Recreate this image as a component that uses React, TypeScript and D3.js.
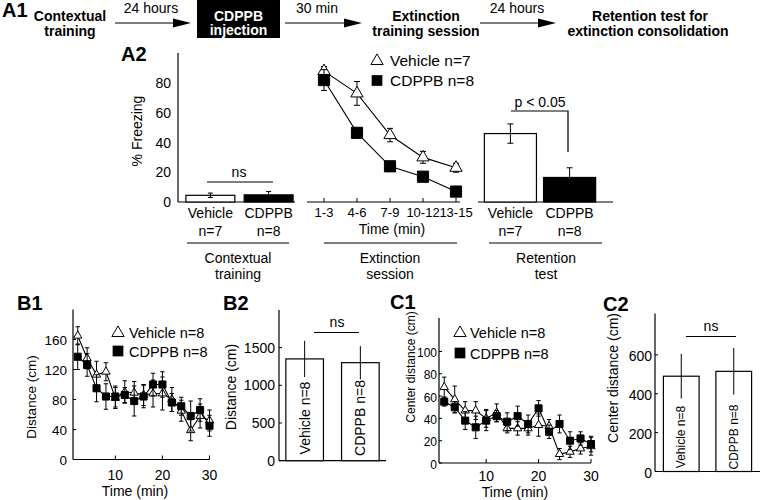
import React from "react";
import * as d3 from "d3";

const FONT = "'Liberation Sans', Arial, Helvetica, sans-serif";

// ---------- Data ----------
const groups = ["Vehicle", "CDPPB"];
const groupN_A = ["n=7", "n=8"];
const contextualMean = [4.5, 4.8];
const contextualErr = [1.5, 2.3];

const extinctionBlocks = ["1-3", "4-6", "7-9", "10-12", "13-15"];
const extVehicle = [88, 73, 45, 30, 23];
const extVehicleErr = [3, 8, 4.5, 4, 3];
const extCdppb = [82, 46.5, 24, 17, 7];
const extCdppbErr = [7, 3, 3, 3, 2];

const retentionMean = [46, 16.5];
const retentionErr = [6.5, 6.5];
const freezingTicks = [0, 20, 40, 60, 80];

const timeMin = [2, 4, 6, 8, 10, 12, 14, 16, 18, 20, 22, 24, 26, 28, 30];
const b1Vehicle = [165, 135, 113, 117, 82, 90, 89, 86, 88, 88, 80, 65, 39, 58, 52];
const b1VehicleErr = [12, 14, 18, 12, 14, 15, 15, 14, 18, 22, 16, 14, 14, 16, 14];
const b1Cdppb = [137, 126, 95, 84, 84, 86, 78, 84, 100, 100, 76, 71, 58, 66, 45];
const b1CdppbErr = [17, 15, 18, 17, 14, 10, 20, 15, 15, 17, 12, 12, 20, 15, 14];
const b1Ticks = [0, 40, 80, 120, 160];

const b2Mean = [1350, 1300];
const b2Err = [240, 220];
const b2Ticks = [0, 500, 1000, 1500];

const c1Vehicle = [68, 57, 47, 47, 40, 45, 31, 31, 31, 34, 33, 8, 10, 13, 15];
const c1VehicleErr = [9, 12, 8, 8, 8, 8, 4, 6, 6, 10, 6, 5, 5, 5, 8];
const c1Cdppb = [55, 50, 38, 32, 38, 42, 37, 42, 35, 49, 28, 35, 20, 22, 17];
const c1CdppbErr = [4, 5, 8, 10, 9, 5, 8, 9, 8, 7, 6, 8, 8, 6, 7];
const c1Ticks = [0, 20, 40, 60, 80, 100];
const timeTicks = [10, 20, 30];

const c2Mean = [490, 515];
const c2Err = [115, 120];
const c2Ticks = [0, 200, 400, 600];

const groupN_BC = ["Vehicle n=8", "CDPPB n=8"];

// ---------- helpers ----------
const tri = d3.symbol(d3.symbolTriangle);
const sq = d3.symbol(d3.symbolSquare);

function ErrBar({ x, y0, y1, cap }: { x: number; y0: number; y1: number; cap: number }) {
  return (
    <g stroke="#000" strokeWidth={1}>
      <line x1={x} x2={x} y1={y0} y2={y1} />
      {cap > 0 && <line x1={x - cap} x2={x + cap} y1={y0} y2={y0} />}
      {cap > 0 && <line x1={x - cap} x2={x + cap} y1={y1} y2={y1} />}
    </g>
  );
}

function Arrow({ x1, x2, y }: { x1: number; x2: number; y: number }) {
  return (
    <g>
      <line x1={x1} x2={x2 - 14} y1={y} y2={y} stroke="#000" strokeWidth={1.2} />
      <polygon points={`${x2},${y} ${x2 - 18},${y - 4.5} ${x2 - 18},${y + 4.5}`} fill="#000" />
    </g>
  );
}

function LineSeries({
  xs, vals, errs, x, y, kind, size, cap,
}: {
  xs: any[]; vals: number[]; errs: number[]; x: (v: any) => number; y: (v: number) => number;
  kind: "tri" | "sq"; size: number; cap: number;
}) {
  const pts = xs.map((t, i) => [x(t), y(vals[i])] as [number, number]);
  const path = d3.line()(pts) || "";
  return (
    <g>
      <path d={path} fill="none" stroke="#000" strokeWidth={1.1} />
      {pts.map((p, i) => (
        <ErrBar key={"e" + i} x={p[0]} y0={y(vals[i] + errs[i])} y1={y(vals[i] - errs[i])} cap={cap} />
      ))}
      {pts.map((p, i) => (
        <path
          key={"m" + i}
          transform={`translate(${p[0]},${p[1]})`}
          d={(kind === "tri" ? tri.size(size) : sq.size(size))() || ""}
          fill={kind === "tri" ? "#fff" : "#000"}
          stroke="#000"
          strokeWidth={1}
        />
      ))}
    </g>
  );
}

export default function App() {
  // ----- A2 scales -----
  const yA = d3.scaleLinear().domain([0, 100]).range([202, 53.25]);
  const xCtx = d3.scaleBand().domain(groups).range([183, 296]).paddingInner(0.16).paddingOuter(0.05);
  const xExt = d3.scalePoint().domain(extinctionBlocks).range([324, 456]);
  const xRet = d3.scaleBand().domain(groups).range([482, 598]).paddingInner(0.12).paddingOuter(0.04);

  // ----- B1 -----
  const xB1 = d3.scaleLinear().domain([1, 30]).range([73, 209.5]);
  const yB1 = d3.scaleLinear().domain([0, 200]).range([459.5, 309.5]);
  // ----- B2 -----
  const xB2 = d3.scaleBand().domain(groups).range([279, 386]).paddingInner(0.325).paddingOuter(0.123);
  const yB2 = d3.scaleLinear().domain([0, 2000]).range([460.7, 309.9]);
  // ----- C1 -----
  const xC1 = d3.scaleLinear().domain([1, 30]).range([439, 591]);
  const yC1 = d3.scaleLinear().domain([0, 130]).range([463, 318]);
  // ----- C2 -----
  const xC2 = d3.scaleBand().domain(groups).range([655, 760]).paddingInner(0.32).paddingOuter(0.16);
  const yC2 = d3.scaleLinear().domain([0, 813]).range([471.5, 313.4]);

  const txt = { fontFamily: FONT, fill: "#000" } as const;

  return (
    <div style={{ position: "absolute", left: 0, top: 0 }}>
      <svg width={761} height={500} viewBox="0 0 761 500" style={{ display: "block", background: "#fff" }}>
        <rect x={0} y={0} width={761} height={500} fill="#fff" />
        {/* ===== A1 timeline ===== */}
        <g style={txt}>
          <text x={2} y={17} fontSize={20} fontWeight="bold">A1</text>
          <text x={70} y={20.5} fontSize={14} fontWeight="bold" textAnchor="middle">Contextual</text>
          <text x={70} y={35.5} fontSize={14} fontWeight="bold" textAnchor="middle">training</text>
          <Arrow x1={115} x2={191} y={23} />
          <text x={151} y={13} fontSize={14} textAnchor="middle">24 hours</text>
          <rect x={197} y={0} width={83} height={38} fill="#000" />
          <text x={238.5} y={20.5} fontSize={14} fontWeight="bold" textAnchor="middle" fill="#fff">CDPPB</text>
          <text x={238.5} y={35} fontSize={14} fontWeight="bold" textAnchor="middle" fill="#fff">injection</text>
          <Arrow x1={285} x2={362} y={23} />
          <text x={317} y={13} fontSize={14} textAnchor="middle">30 min</text>
          <text x={426} y={20.5} fontSize={14} fontWeight="bold" textAnchor="middle">Extinction</text>
          <text x={426} y={35.5} fontSize={14} fontWeight="bold" textAnchor="middle">training session</text>
          <Arrow x1={480} x2={556} y={23} />
          <text x={517} y={13} fontSize={14} textAnchor="middle">24 hours</text>
          <text x={650} y={20.5} fontSize={14} fontWeight="bold" textAnchor="middle">Retention test for</text>
          <text x={648} y={35.5} fontSize={14} fontWeight="bold" textAnchor="middle">extinction consolidation</text>
        </g>

        {/* ===== A2 ===== */}
        <g style={txt}>
          <text x={121} y={60.5} fontSize={20} fontWeight="bold">A2</text>
          <text transform="translate(142,131) rotate(-90)" fontSize={14} textAnchor="middle">% Freezing</text>
          <line x1={178} x2={178} y1={53} y2={yA(0)} stroke="#000" strokeWidth={1.2} />
          {freezingTicks.map((t) => (
            <text key={t} x={171} y={yA(t) + 5} fontSize={14} textAnchor="end">{t}</text>
          ))}
          {/* contextual bars */}
          <line x1={178} x2={295} y1={yA(0)} y2={yA(0)} stroke="#000" strokeWidth={1.2} />
          {groups.map((g, i) => (
            <g key={g}>
              <rect x={xCtx(g)!} y={yA(contextualMean[i])} width={xCtx.bandwidth()} height={yA(0) - yA(contextualMean[i])}
                fill={i === 0 ? "#fff" : "#000"} stroke="#000" strokeWidth={1.2} />
              <ErrBar x={xCtx(g)! + xCtx.bandwidth() / 2} y0={yA(contextualMean[i] + contextualErr[i])}
                y1={yA(contextualMean[i] - contextualErr[i])} cap={2.5} />
              <text x={xCtx(g)! + xCtx.bandwidth() / 2} y={218} fontSize={14} textAnchor="middle">{g}</text>
              <text x={xCtx(g)! + xCtx.bandwidth() / 2} y={236} fontSize={14} textAnchor="middle">{groupN_A[i]}</text>
            </g>
          ))}
          <line x1={207} x2={273} y1={182} y2={182} stroke="#000" strokeWidth={1.2} />
          <text x={239} y={177} fontSize={14} textAnchor="middle">ns</text>
          <line x1={187} x2={289} y1={243} y2={243} stroke="#000" strokeWidth={1.2} />
          <text x={238} y={263} fontSize={14} textAnchor="middle">Contextual</text>
          <text x={238} y={279} fontSize={14} textAnchor="middle">training</text>

          {/* extinction */}
          <line x1={307} x2={460} y1={yA(0)} y2={yA(0)} stroke="#000" strokeWidth={1.2} />
          {extinctionBlocks.map((b) => (
            <g key={b}>
              <line x1={xExt(b)!} x2={xExt(b)!} y1={yA(0)} y2={yA(0) - 4} stroke="#000" />
              <text x={xExt(b)!} y={217} fontSize={13} textAnchor="middle">{b}</text>
            </g>
          ))}
          <LineSeries xs={extinctionBlocks} vals={extVehicle} errs={extVehicleErr} x={(v) => xExt(v)!} y={yA} kind="tri" size={65} cap={3} />
          <LineSeries xs={extinctionBlocks} vals={extCdppb} errs={extCdppbErr} x={(v) => xExt(v)!} y={yA} kind="sq" size={125} cap={3} />
          <text x={392} y={234} fontSize={14} textAnchor="middle">Time (min)</text>
          <line x1={324} x2={457} y1={243} y2={243} stroke="#000" strokeWidth={1.2} />
          <text x={390} y={263} fontSize={14} textAnchor="middle">Extinction</text>
          <text x={390} y={279} fontSize={14} textAnchor="middle">session</text>
          {/* legend */}
          <path transform="translate(377,61)" d={tri.size(65)() || ""} fill="#fff" stroke="#000" />
          <text x={390} y={66} fontSize={15.5}>Vehicle n=7</text>
          <path transform="translate(377,80.5)" d={sq.size(115)() || ""} fill="#000" />
          <text x={390} y={86} fontSize={15.5}>CDPPB n=8</text>

          {/* retention */}
          <line x1={478} x2={613} y1={yA(0)} y2={yA(0)} stroke="#000" strokeWidth={1.2} />
          {groups.map((g, i) => (
            <g key={g}>
              <rect x={xRet(g)!} y={yA(retentionMean[i])} width={xRet.bandwidth()} height={yA(0) - yA(retentionMean[i])}
                fill={i === 0 ? "#fff" : "#000"} stroke="#000" strokeWidth={1.2} />
              <ErrBar x={xRet(g)! + xRet.bandwidth() / 2} y0={yA(retentionMean[i] + retentionErr[i])}
                y1={yA(retentionMean[i] - retentionErr[i])} cap={3} />
              <text x={xRet(g)! + xRet.bandwidth() / 2} y={218} fontSize={14} textAnchor="middle">{g}</text>
              <text x={xRet(g)! + xRet.bandwidth() / 2} y={236} fontSize={14} textAnchor="middle">{groupN_A[i]}</text>
            </g>
          ))}
          <polyline points={`511,111 568,111 568,152`} fill="none" stroke="#000" strokeWidth={1.2} />
          <text x={540} y={106.5} fontSize={14} textAnchor="middle">p &lt; 0.05</text>
          <line x1={489} x2={602} y1={243} y2={243} stroke="#000" strokeWidth={1.2} />
          <text x={546} y={263} fontSize={14} textAnchor="middle">Retention</text>
          <text x={546} y={279} fontSize={14} textAnchor="middle">test</text>
        </g>

        {/* ===== B1 ===== */}
        <g style={txt}>
          <text x={17} y={310} fontSize={20} fontWeight="bold">B1</text>
          <text transform="translate(36,397) rotate(-90)" fontSize={13.5} textAnchor="middle">Distance (cm)</text>
          <line x1={xB1(1)} x2={xB1(1)} y1={309.5} y2={yB1(0)} stroke="#000" strokeWidth={1.2} />
          <line x1={xB1(1)} x2={xB1(30)} y1={yB1(0)} y2={yB1(0)} stroke="#000" strokeWidth={1.2} />
          {b1Ticks.map((t) => (
            <g key={t}>
              <line x1={xB1(1)} x2={xB1(1) + 3} y1={yB1(t)} y2={yB1(t)} stroke="#000" />
              <text x={67} y={yB1(t) + 5.5} fontSize={13.5} textAnchor="end">{t}</text>
            </g>
          ))}
          {timeTicks.map((t) => (
            <g key={t}>
              <line x1={xB1(t)} x2={xB1(t)} y1={yB1(0)} y2={yB1(0) - 4} stroke="#000" />
              <text x={xB1(t)} y={480} fontSize={14} textAnchor="middle">{t}</text>
            </g>
          ))}
          <text x={135} y={496} fontSize={14} textAnchor="middle">Time (min)</text>
          <LineSeries xs={timeMin} vals={b1Vehicle} errs={b1VehicleErr} x={xB1} y={yB1} kind="tri" size={30} cap={2.2} />
          <LineSeries xs={timeMin} vals={b1Cdppb} errs={b1CdppbErr} x={xB1} y={yB1} kind="sq" size={50} cap={2.2} />
          <path transform="translate(118,333)" d={tri.size(65)() || ""} fill="#fff" stroke="#000" />
          <text x={129} y={338} fontSize={14.5}>Vehicle n=8</text>
          <path transform="translate(118,351)" d={sq.size(115)() || ""} fill="#000" />
          <text x={129} y={356.5} fontSize={14.5}>CDPPB n=8</text>
        </g>

        {/* ===== B2 ===== */}
        <g style={txt}>
          <text x={223} y={310} fontSize={20} fontWeight="bold">B2</text>
          <text transform="translate(236,387) rotate(-90)" fontSize={14} textAnchor="middle">Distance (cm)</text>
          <line x1={279} x2={279} y1={309.9} y2={yB2(0)} stroke="#000" strokeWidth={1.2} />
          <line x1={279} x2={386} y1={yB2(0)} y2={yB2(0)} stroke="#000" strokeWidth={1.2} />
          {b2Ticks.map((t) => (
            <g key={t}>
              <line x1={279} x2={282} y1={yB2(t)} y2={yB2(t)} stroke="#000" />
              <text x={275} y={yB2(t) + 5} fontSize={14} textAnchor="end">{t}</text>
            </g>
          ))}
          {groups.map((g, i) => {
            const cx = xB2(g)! + xB2.bandwidth() / 2;
            return (
              <g key={g}>
                <rect x={xB2(g)!} y={yB2(b2Mean[i])} width={xB2.bandwidth()} height={yB2(0) - yB2(b2Mean[i])}
                  fill="#fff" stroke="#000" strokeWidth={1.2} />
                <ErrBar x={cx} y0={yB2(b2Mean[i] + b2Err[i])} y1={yB2(b2Mean[i] - b2Err[i])} cap={0} />
                <text transform={`translate(${cx + 5},${418}) rotate(-90)`} fontSize={14} textAnchor="middle">{groupN_BC[i]}</text>
              </g>
            );
          })}
          <line x1={314} x2={359} y1={332.5} y2={332.5} stroke="#000" strokeWidth={1.2} />
          <text x={337} y={327} fontSize={14} textAnchor="middle">ns</text>
        </g>

        {/* ===== C1 ===== */}
        <g style={txt}>
          <text x={390} y={309} fontSize={20} fontWeight="bold">C1</text>
          <text transform="translate(415,367) rotate(-90)" fontSize={12} textAnchor="middle">Center distance (cm)</text>
          <line x1={xC1(1)} x2={xC1(1)} y1={318} y2={yC1(0)} stroke="#000" strokeWidth={1.2} />
          <line x1={xC1(1)} x2={xC1(30)} y1={yC1(0)} y2={yC1(0)} stroke="#000" strokeWidth={1.2} />
          {c1Ticks.map((t) => (
            <g key={t}>
              <line x1={xC1(1)} x2={xC1(1) + 3} y1={yC1(t)} y2={yC1(t)} stroke="#000" />
              <text x={437} y={yC1(t) + 5.5} fontSize={12} textAnchor="end">{t}</text>
            </g>
          ))}
          {timeTicks.map((t) => (
            <g key={t}>
              <line x1={xC1(t)} x2={xC1(t)} y1={yC1(0)} y2={yC1(0) - 4} stroke="#000" />
              <text x={xC1(t)} y={481} fontSize={14} textAnchor="middle">{t}</text>
            </g>
          ))}
          <text x={515} y={497} fontSize={14} textAnchor="middle">Time (min)</text>
          <LineSeries xs={timeMin} vals={c1Vehicle} errs={c1VehicleErr} x={xC1} y={yC1} kind="tri" size={30} cap={2.2} />
          <LineSeries xs={timeMin} vals={c1Cdppb} errs={c1CdppbErr} x={xC1} y={yC1} kind="sq" size={50} cap={2.2} />
          <path transform="translate(460,333)" d={tri.size(65)() || ""} fill="#fff" stroke="#000" />
          <text x={470} y={338} fontSize={14.5}>Vehicle n=8</text>
          <path transform="translate(460,353)" d={sq.size(115)() || ""} fill="#000" />
          <text x={470} y={358.5} fontSize={14.5}>CDPPB n=8</text>
        </g>

        {/* ===== C2 ===== */}
        <g style={txt}>
          <text x={603} y={311} fontSize={20} fontWeight="bold">C2</text>
          <text transform="translate(618,378) rotate(-90)" fontSize={14} textAnchor="middle">Center distance (cm)</text>
          <line x1={655} x2={655} y1={313.4} y2={yC2(0)} stroke="#000" strokeWidth={1.2} />
          <line x1={655} x2={760} y1={yC2(0)} y2={yC2(0)} stroke="#000" strokeWidth={1.2} />
          {c2Ticks.map((t) => (
            <g key={t}>
              <line x1={655} x2={658} y1={yC2(t)} y2={yC2(t)} stroke="#000" />
              <text x={652} y={yC2(t) + 6} fontSize={14} textAnchor="end">{t}</text>
            </g>
          ))}
          {groups.map((g, i) => {
            const cx = xC2(g)! + xC2.bandwidth() / 2;
            return (
              <g key={g}>
                <rect x={xC2(g)!} y={yC2(c2Mean[i])} width={xC2.bandwidth()} height={yC2(0) - yC2(c2Mean[i])}
                  fill="#fff" stroke="#000" strokeWidth={1.2} />
                <ErrBar x={cx} y0={yC2(c2Mean[i] + c2Err[i])} y1={yC2(c2Mean[i] - c2Err[i])} cap={0} />
                <text transform={`translate(${cx + 4},${437}) rotate(-90)`} fontSize={12} textAnchor="middle">{groupN_BC[i]}</text>
              </g>
            );
          })}
          <line x1={686} x2={736} y1={336.5} y2={336.5} stroke="#000" strokeWidth={1.2} />
          <text x={711} y={331} fontSize={14} textAnchor="middle">ns</text>
        </g>
      </svg>
    </div>
  );
}
